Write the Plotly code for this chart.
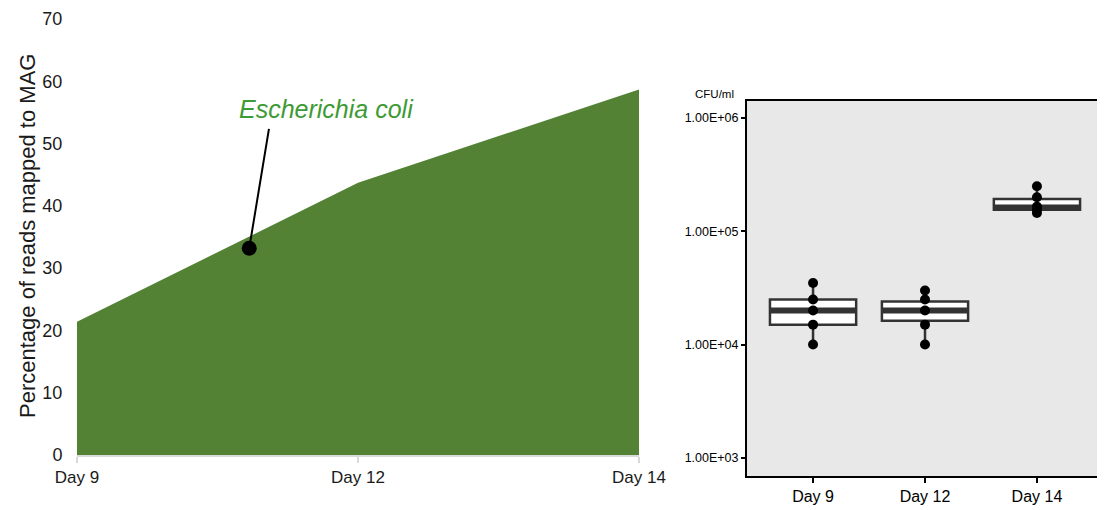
import plotly.graph_objects as go

# left panel: share of reads mapped to the E. coli MAG
days = ["Day 9", "Day 12", "Day 14"]
pct_reads = [21.4, 43.7, 58.7]

# right panel: CFU/ml counts per day (individual replicates)
cfu_day9 = [10000, 15000, 20000, 25000, 35000]
cfu_day12 = [10000, 15000, 20000, 25000, 30000]
cfu_day14 = [145000, 155000, 165000, 200000, 250000]

# box statistics as drawn in the reference
box_q1 = [15000, 16200, 155000]
box_median = [20000, 20000, 162000]
box_q3 = [25000, 24000, 193000]
box_low = [10000, 10000, 145000]
box_high = [35000, 30000, 250000]

ytick_vals = [1e3, 1e4, 1e5, 1e6]
ytick_text = ["1.00E+03", "1.00E+04", "1.00E+05", "1.00E+06"]

# callout point on the area (x in day-index units)
callout_x, callout_y = 0.613, 33.2
callout_tail_x, callout_tail_y = 0.684, 52.6

green_fill = "#548235"
arial = "Liberation Sans, Arial, sans-serif"
day_idx = list(range(len(days)))

# the page body adds an 8px margin, so the figure is drawn 8px smaller
W, H = 1097, 502

fig = go.Figure()

fig.add_trace(go.Scatter(
    x=day_idx, y=pct_reads, mode="lines", fill="tozeroy",
    fillcolor=green_fill, line=dict(width=0, color=green_fill),
    xaxis="x", yaxis="y", hoverinfo="skip",
))
fig.add_trace(go.Scatter(
    x=[callout_x], y=[callout_y], mode="markers",
    marker=dict(size=15, color="black"), xaxis="x", yaxis="y", hoverinfo="skip",
))

# boxes
fig.add_trace(go.Box(
    x=days, q1=box_q1, median=box_median, q3=box_q3,
    lowerfence=box_low, upperfence=box_high,
    fillcolor="white", line=dict(color="#333333", width=2.5),
    whiskerwidth=0, width=0.77, xaxis="x2", yaxis="y2", hoverinfo="skip",
))
# thick median bar
fig.add_trace(go.Box(
    x=days, q1=box_median, median=box_median, q3=box_median,
    lowerfence=box_median, upperfence=box_median,
    fillcolor="#333333", line=dict(color="#333333", width=6),
    whiskerwidth=0, width=0.77, xaxis="x2", yaxis="y2", hoverinfo="skip",
))
pts_x = ["Day 9"] * len(cfu_day9) + ["Day 12"] * len(cfu_day12) + ["Day 14"] * len(cfu_day14)
pts_y = cfu_day9 + cfu_day12 + cfu_day14
fig.add_trace(go.Scatter(
    x=pts_x, y=pts_y, mode="markers",
    marker=dict(size=10, color="black"), xaxis="x2", yaxis="y2", hoverinfo="skip",
))

fig.update_layout(
    width=W, height=H,
    margin=dict(l=0, r=0, t=0, b=0, autoexpand=False),
    paper_bgcolor="white", plot_bgcolor="white",
    showlegend=False, hovermode=False,
    xaxis=dict(
        domain=[69 / W, 631 / W], range=[0, 2], automargin=False,
        tickvals=day_idx, ticktext=days,
        showgrid=False, zeroline=False,
        showline=True, linecolor="#d9d9d9", linewidth=2,
        ticks="outside", tickcolor="#d9d9d9", ticklen=6, tickwidth=2,
        tickfont=dict(family=arial, size=17, color="#1a1a1a"),
    ),
    yaxis=dict(
        domain=[55 / H, 491 / H], range=[0, 70], dtick=10, automargin=False,
        showgrid=False, zeroline=False, showline=False,
        ticks="outside", ticklen=10, tickcolor="rgba(0,0,0,0)",
        tickfont=dict(family=arial, size=18, color="#1a1a1a"),
    ),
    xaxis2=dict(
        domain=[739 / W, 1095 / W], type="category", range=[-0.59, 2.59],
        anchor="y2", automargin=False, showgrid=False, zeroline=False,
        showline=True, mirror=True, linecolor="black", linewidth=2,
        ticks="outside", tickcolor="black", ticklen=5, tickwidth=2,
        tickfont=dict(family=arial, size=16, color="black"),
    ),
    yaxis2=dict(
        domain=[34 / H, 409 / H], type="log", range=[2.84, 6.15],
        anchor="x2", automargin=False, tickvals=ytick_vals, ticktext=ytick_text,
        showgrid=False, zeroline=False,
        showline=True, mirror=True, linecolor="black", linewidth=2,
        ticks="outside", tickcolor="black", ticklen=4, tickwidth=2,
        tickfont=dict(family=arial, size=12.5, color="black"),
    ),
    shapes=[
        dict(
            type="rect", xref="x2 domain", yref="y2 domain",
            x0=0, x1=1, y0=0, y1=1, layer="below",
            fillcolor="#e8e8e8", line=dict(width=0),
        ),
    ],
    annotations=[
        dict(
            text="Percentage of reads mapped to MAG", textangle=-90,
            xref="paper", yref="paper", x=19 / W, y=(H - 228) / H,
            xanchor="center", yanchor="middle",
            showarrow=False, font=dict(family=arial, size=22, color="#1a1a1a"),
        ),
        dict(
            text="<i>Escherichia coli</i>", xref="paper", yref="paper",
            x=318 / W, y=(H - 101) / H, xanchor="center", yanchor="middle",
            showarrow=False, font=dict(family=arial, size=25, color="#3e9a34"),
        ),
        dict(
            text="", xref="x", yref="y", x=callout_x, y=callout_y,
            ax=callout_tail_x, ay=callout_tail_y, axref="x", ayref="y",
            showarrow=True, arrowhead=0, arrowwidth=2, arrowcolor="black",
        ),
        dict(
            text="CFU/ml", xref="paper", yref="paper",
            x=706 / W, y=(H - 86) / H, xanchor="center", yanchor="middle",
            showarrow=False, font=dict(family=arial, size=11.5, color="black"),
        ),
    ],
)

fig.write_html("out.html")
